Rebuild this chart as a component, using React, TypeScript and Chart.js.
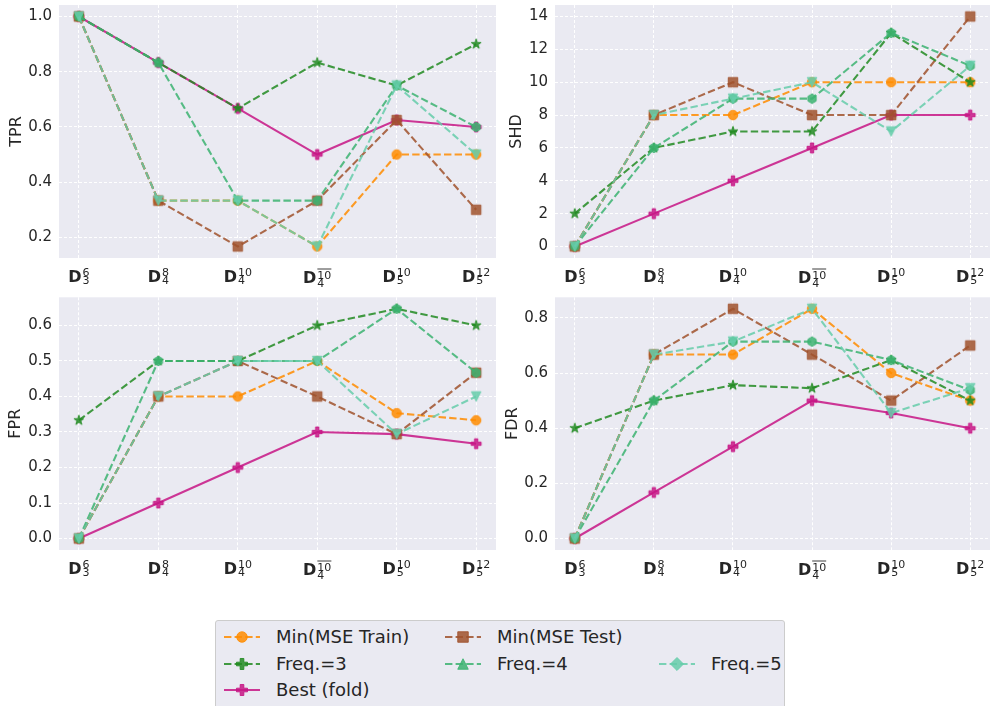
import React, { useEffect, useRef } from "react";
import { Chart, registerables } from "chart.js";
Chart.register(...registerables);

// ---------- data ----------
const categorySup = ["6", "8", "10", "10", "10", "12"];
const categorySub = ["3", "4", "4", "4", "5", "5"];
const categoryOverline = [false, false, false, true, false, false];

const seriesNames = ["Min(MSE Train)", "Min(MSE Test)", "Freq.=3", "Freq.=4", "Freq.=5", "Best (fold)"];

const tprMinTrain = [1.0, 0.333, 0.333, 0.167, 0.5, 0.5];
const tprMinTest = [1.0, 0.333, 0.167, 0.333, 0.625, 0.3];
const tprFreq3 = [1.0, 0.833, 0.667, 0.833, 0.75, 0.9];
const tprFreq4 = [1.0, 0.833, 0.333, 0.333, 0.75, 0.6];
const tprFreq5 = [1.0, 0.333, 0.333, 0.167, 0.75, 0.5];
const tprBest = [1.0, 0.833, 0.667, 0.5, 0.625, 0.6];

const shdMinTrain = [0, 8, 8, 10, 10, 10];
const shdMinTest = [0, 8, 10, 8, 8, 14];
const shdFreq3 = [2, 6, 7, 7, 13, 10];
const shdFreq4 = [0, 6, 9, 9, 13, 11];
const shdFreq5 = [0, 8, 9, 10, 7, 11];
const shdBest = [0, 2, 4, 6, 8, 8];

const fprMinTrain = [0, 0.4, 0.4, 0.5, 0.353, 0.333];
const fprMinTest = [0, 0.4, 0.5, 0.4, 0.294, 0.467];
const fprFreq3 = [0.333, 0.5, 0.5, 0.6, 0.647, 0.6];
const fprFreq4 = [0, 0.5, 0.5, 0.5, 0.647, 0.467];
const fprFreq5 = [0, 0.4, 0.5, 0.5, 0.294, 0.4];
const fprBest = [0, 0.1, 0.2, 0.3, 0.294, 0.267];

const fdrMinTrain = [0, 0.667, 0.667, 0.833, 0.6, 0.5];
const fdrMinTest = [0, 0.667, 0.833, 0.667, 0.5, 0.7];
const fdrFreq3 = [0.4, 0.5, 0.556, 0.545, 0.647, 0.5];
const fdrFreq4 = [0, 0.5, 0.714, 0.714, 0.647, 0.538];
const fdrFreq5 = [0, 0.667, 0.714, 0.833, 0.455, 0.545];
const fdrBest = [0, 0.167, 0.333, 0.5, 0.455, 0.4];

const tprTicks = [0.2, 0.4, 0.6, 0.8, 1.0];
const shdTicks = [0, 2, 4, 6, 8, 10, 12, 14];
const fprTicks = [0.0, 0.1, 0.2, 0.3, 0.4, 0.5, 0.6];
const fdrTicks = [0.0, 0.2, 0.4, 0.6, 0.8];

// ---------- styles ----------
const FONT = "'DejaVu Sans', sans-serif";
const TEXT = "#262626";
const seriesColors = ["#ff8c00", "#a0522d", "#228b22", "#3cb371", "#66cdaa", "#c71585"];
const seriesDashed = [true, true, true, true, true, false];
const plotMarkers = ["circle", "square", "star", "hexagon", "triDown", "plus"];
const legendMarkers = ["circle", "square", "plus", "triUp", "diamond", "plus"];
const drawOrder = [5, 4, 3, 2, 1, 6];
const ALPHA = 0.85;
const MS = 9.5;

function rgba(hex: string, a: number) {
  const n = parseInt(hex.slice(1), 16);
  return `rgba(${(n >> 16) & 255},${(n >> 8) & 255},${n & 255},${a})`;
}

function shapePoints(shape: string, ms: number): number[][] | null {
  const r = ms / 2;
  const pts: number[][] = [];
  switch (shape) {
    case "square":
      return [[-r, -r], [r, -r], [r, r], [-r, r]];
    case "triDown":
      return [[0, r], [-r, -r], [r, -r]];
    case "triUp":
      return [[0, -r], [-r, r], [r, r]];
    case "star":
      for (let k = 0; k < 10; k++) {
        const ang = -Math.PI / 2 + (k * Math.PI) / 5;
        const rad = k % 2 === 0 ? r * 1.1 : r * 1.1 * 0.381966;
        pts.push([rad * Math.cos(ang), rad * Math.sin(ang)]);
      }
      return pts;
    case "hexagon":
      for (let k = 0; k < 6; k++) {
        const ang = -Math.PI / 2 + (k * Math.PI) / 3;
        pts.push([r * Math.cos(ang), r * Math.sin(ang)]);
      }
      return pts;
    case "plus": {
      const base = [[-1, -3], [1, -3], [1, -1], [3, -1], [3, 1], [1, 1], [1, 3], [-1, 3], [-1, 1], [-3, 1], [-3, -1], [-1, -1]];
      return base.map(([x, y]) => [(x / 6) * ms * 1.05, (y / 6) * ms * 1.05]);
    }
    case "diamond": {
      const d = 0.62 * ms;
      return [[0, -d], [d, 0], [0, d], [-d, 0]];
    }
    default:
      return null;
  }
}

function makeMarker(shape: string, color: string, ms: number): HTMLCanvasElement {
  const size = Math.ceil(ms * 1.6) + 4;
  const c = document.createElement("canvas");
  c.width = size;
  c.height = size;
  const ctx = c.getContext("2d")!;
  ctx.translate(size / 2, size / 2);
  ctx.beginPath();
  const pts = shapePoints(shape, ms);
  if (!pts) {
    ctx.arc(0, 0, ms / 2, 0, Math.PI * 2);
  } else {
    pts.forEach(([x, y], i) => (i === 0 ? ctx.moveTo(x, y) : ctx.lineTo(x, y)));
  }
  ctx.closePath();
  ctx.fillStyle = rgba(color, ALPHA);
  ctx.fill();
  ctx.lineWidth = 1;
  ctx.lineJoin = "round";
  ctx.strokeStyle = rgba(color, ALPHA);
  ctx.stroke();
  return c;
}

function svgMarker(shape: string, color: string, ms: number, cx: number, cy: number) {
  const pts = shapePoints(shape, ms);
  const fill = rgba(color, ALPHA);
  if (!pts) return <circle cx={cx} cy={cy} r={ms / 2} fill={fill} stroke={fill} strokeWidth={1} />;
  const d = pts.map(([x, y], i) => `${i === 0 ? "M" : "L"}${cx + x},${cy + y}`).join(" ") + " Z";
  return <path d={d} fill={fill} stroke={fill} strokeWidth={1} strokeLinejoin="round" />;
}

const bgPlugin = {
  id: "bgArea",
  beforeDraw(chart: any) {
    const { ctx, chartArea: a } = chart;
    ctx.save();
    ctx.fillStyle = "#eaeaf2";
    ctx.fillRect(a.left, a.top, a.right - a.left, a.bottom - a.top);
    ctx.restore();
  },
};

const xLabelPlugin = {
  id: "xLabels",
  afterDraw(chart: any) {
    const { ctx, chartArea: a } = chart;
    const xs = chart.scales.x;
    ctx.save();
    ctx.fillStyle = TEXT;
    ctx.strokeStyle = TEXT;
    ctx.textBaseline = "alphabetic";
    ctx.textAlign = "left";
    categorySup.forEach((sup, i) => {
      const sub = categorySub[i];
      const over = categoryOverline[i];
      const px = xs.getPixelForValue(i);
      ctx.font = `bold 16px ${FONT}`;
      const wD = ctx.measureText("D").width;
      ctx.font = `11px ${FONT}`;
      const wSup = ctx.measureText(sup).width;
      const wSub = ctx.measureText(sub).width;
      const wS = Math.max(wSup, wSub);
      const total = wD + 1 + wS;
      const x0 = px - total / 2;
      const base = a.bottom + 23.7 + (over ? 1.6 : 0);
      ctx.font = `bold 16px ${FONT}`;
      ctx.fillText("D", x0, base);
      ctx.font = `11px ${FONT}`;
      const supBase = base - (over ? 4 : 5.3);
      ctx.fillText(sup, x0 + wD + 1, supBase);
      ctx.fillText(sub, x0 + wD + 1, base + (over ? 3.3 : 2.7));
      if (over) {
        ctx.lineWidth = 0.9;
        ctx.beginPath();
        const oy = base - 14.3;
        ctx.moveTo(x0 + wD + 1, oy);
        ctx.lineTo(x0 + wD + 1 + wSup, oy);
        ctx.stroke();
      }
    });
    ctx.restore();
  },
};

type Metric = { label: string; series: number[][]; ticks: number[]; decimals: number };

const metrics: Metric[] = [
  { label: "TPR", series: [tprMinTrain, tprMinTest, tprFreq3, tprFreq4, tprFreq5, tprBest], ticks: tprTicks, decimals: 1 },
  { label: "SHD", series: [shdMinTrain, shdMinTest, shdFreq3, shdFreq4, shdFreq5, shdBest], ticks: shdTicks, decimals: 0 },
  { label: "FPR", series: [fprMinTrain, fprMinTest, fprFreq3, fprFreq4, fprFreq5, fprBest], ticks: fprTicks, decimals: 1 },
  { label: "FDR", series: [fdrMinTrain, fdrMinTest, fdrFreq3, fdrFreq4, fdrFreq5, fdrBest], ticks: fdrTicks, decimals: 1 },
];

type Panel = { left: number; top: number; width: number; height: number; padTop: number; yWidth: number; xHeight: number; titlePad: number };

function SubChart({ metric, panel }: { metric: Metric; panel: Panel }) {
  const ref = useRef<HTMLCanvasElement>(null);
  useEffect(() => {
    const all = metric.series.flat();
    const dmin = Math.min(...all);
    const dmax = Math.max(...all);
    const m = (dmax - dmin) * 0.05;
    const datasets = metric.series.map((vals, s) => ({
      label: seriesNames[s],
      data: vals.map((v, i) => ({ x: i, y: v })),
      borderColor: rgba(seriesColors[s], ALPHA),
      backgroundColor: rgba(seriesColors[s], ALPHA),
      borderWidth: 2.1,
      borderDash: seriesDashed[s] ? [7.4, 3.2] : [],
      pointStyle: makeMarker(plotMarkers[s], seriesColors[s], MS),
      pointRadius: 5,
      fill: false,
      tension: 0,
      clip: false as any,
      order: drawOrder[s],
    }));
    const chart = new Chart(ref.current!, {
      type: "line",
      data: { datasets },
      options: {
        animation: false,
        responsive: false,
        devicePixelRatio: 1,
        layout: { autoPadding: false, padding: { left: 0, right: 0, top: panel.padTop, bottom: 0 } },
        plugins: { legend: { display: false }, tooltip: { enabled: false } },
        events: [],
        scales: {
          x: {
            type: "linear",
            min: -0.25,
            max: 5.25,
            afterBuildTicks: (s: any) => {
              s.ticks = categorySup.map((_, i) => ({ value: i }));
            },
            afterFit: (s: any) => {
              s.height = panel.xHeight;
              s.paddingLeft = 0;
              s.paddingRight = 0;
            },
            ticks: { display: false },
            grid: { color: "#ffffff", lineWidth: 1, drawTicks: false },
            border: { display: false, dash: [3, 2] },
          },
          y: {
            type: "linear",
            min: dmin - m,
            max: dmax + m,
            afterBuildTicks: (s: any) => {
              s.ticks = metric.ticks.map((v) => ({ value: v }));
            },
            afterFit: (s: any) => {
              s.width = panel.yWidth;
              s.paddingTop = 0;
              s.paddingBottom = 0;
            },
            ticks: {
              padding: 7,
              color: TEXT,
              font: { family: FONT, size: 15 },
              callback: (v: any) => Number(v).toFixed(metric.decimals),
            },
            grid: { color: "#ffffff", lineWidth: 1, drawTicks: false },
            border: { display: false, dash: [3, 2] },
            title: {
              display: true,
              text: metric.label,
              color: TEXT,
              font: { family: FONT, size: 16 },
              padding: { top: panel.titlePad, bottom: 0 },
            },
          },
        },
      },
      plugins: [bgPlugin, xLabelPlugin],
    } as any);
    return () => chart.destroy();
  }, [metric, panel]);
  return (
    <canvas
      ref={ref}
      width={panel.width}
      height={panel.height}
      style={{ position: "absolute", left: panel.left, top: panel.top, width: panel.width, height: panel.height, display: "block" }}
    />
  );
}

const panels: Panel[] = [
  { left: 0, top: 0, width: 496, height: 292, padTop: 5, yWidth: 59, xHeight: 34, titlePad: 7.4 },
  { left: 496, top: 0, width: 494, height: 292, padTop: 5, yWidth: 59, xHeight: 34, titlePad: 11.3 },
  { left: 0, top: 292, width: 496, height: 300, padTop: 5.3, yWidth: 59, xHeight: 42, titlePad: 6.7 },
  { left: 496, top: 292, width: 494, height: 300, padTop: 5.3, yWidth: 59, xHeight: 42, titlePad: 7.4 },
];

const legendSlots = [
  { row: 0, col: 0 },
  { row: 0, col: 1 },
  { row: 1, col: 0 },
  { row: 1, col: 1 },
  { row: 1, col: 2 },
  { row: 2, col: 0 },
];
const legendRowY = [16, 43, 69];
const legendIconX = [8, 229, 443];
const legendTextX = [60, 281, 495];

function Legend() {
  return (
    <div
      style={{
        position: "absolute",
        left: 215,
        top: 620,
        width: 570,
        height: 110,
        background: "#eaeaf2",
        border: "1px solid #cccccc",
        borderRadius: 3,
        boxSizing: "border-box",
        fontFamily: FONT,
        fontSize: 18,
        color: TEXT,
      }}
    >
      {seriesNames.map((name, s) => {
        const slot = legendSlots[s];
        const cy = legendRowY[slot.row];
        return (
          <React.Fragment key={name}>
            <svg
              width={36}
              height={20}
              style={{ position: "absolute", left: legendIconX[slot.col], top: cy - 10, overflow: "visible" }}
            >
              <line
                x1={0}
                y1={10}
                x2={36}
                y2={10}
                stroke={rgba(seriesColors[s], ALPHA)}
                strokeWidth={2.1}
                strokeDasharray={seriesDashed[s] ? "7.4 3.2" : undefined}
              />
              {svgMarker(legendMarkers[s], seriesColors[s], MS + 1, 18, 10)}
            </svg>
            <div
              style={{
                position: "absolute",
                left: legendTextX[slot.col],
                top: cy - 12,
                height: 24,
                lineHeight: "24px",
                whiteSpace: "nowrap",
              }}
            >
              {name}
            </div>
          </React.Fragment>
        );
      })}
    </div>
  );
}

export default function App() {
  return (
    <div style={{ position: "fixed", left: 0, top: 0, width: 990, height: 706, overflow: "hidden", background: "#ffffff" }}>
      {metrics.map((m, i) => (
        <SubChart key={m.label} metric={m} panel={panels[i]} />
      ))}
      <Legend />
    </div>
  );
}
